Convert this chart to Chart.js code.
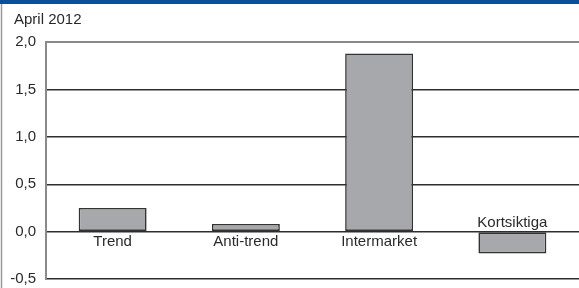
<!DOCTYPE html>
<html>
<head>
<meta charset="utf-8">
<script src="https://cdn.jsdelivr.net/npm/chart.js@4/dist/chart.umd.min.js"></script>
<style>
  html, body { margin: 0; padding: 0; background: #fff; }
  #wrap { width: 579px; height: 288px; position: relative; }
</style>
</head>
<body>
<div id="wrap"><canvas id="chart" width="579" height="288"></canvas></div>
<script>
// --- data ---
const categories = ["Trend", "Anti-trend", "Intermarket", "Kortsiktiga"];
const values = [0.25, 0.08, 1.88, -0.23];
const yTicks = [2.0, 1.5, 1.0, 0.5, 0.0, -0.5];
const periodLabel = "April 2012";

const FONT = "'Liberation Sans', Arial, Helvetica, sans-serif";
const FSIZE = 15;

// frame: blue top band, grey left border, period text
const framePlugin = {
    id: "frame",
    beforeDraw(chart) {
        const c = chart.ctx;
        c.save();
        c.fillStyle = "#fff";
        c.fillRect(0, 0, chart.width, chart.height);
        c.fillStyle = "#0b4f9c";
        c.fillRect(0, 0, chart.width, 4);
        c.strokeStyle = "#9a9a9a";
        c.lineWidth = 1.5;
        c.beginPath();
        c.moveTo(1.5, 4);
        c.lineTo(1.5, chart.height);
        c.stroke();
        c.fillStyle = "#2a2a2a";
        c.font = FSIZE + "px " + FONT;
        c.textBaseline = "middle";
        c.fillText(periodLabel, 14, 20);
        c.restore();
    }
};

// category names sit next to the zero line, on the side away from the bar
const barLabelPlugin = {
    id: "barLabels",
    afterDatasetsDraw(chart) {
        const c = chart.ctx;
        const y0 = chart.scales.y.getPixelForValue(0);
        const meta = chart.getDatasetMeta(0);
        c.save();
        c.fillStyle = "#2a2a2a";
        c.font = FSIZE + "px " + FONT;
        c.textAlign = "center";
        c.textBaseline = "middle";
        meta.data.forEach((el, i) => {
            const y = values[i] >= 0 ? y0 + 10 : y0 - 9;
            c.fillText(categories[i], el.x, y);
        });
        c.restore();
    }
};

new Chart(document.getElementById("chart"), {
    type: "bar",
    data: {
        labels: categories,
        datasets: [{
            data: values,
            backgroundColor: "#a7a8ab",
            borderColor: "#333",
            borderWidth: 1.6,
            borderSkipped: false,
            barPercentage: 1,
            categoryPercentage: 0.51
        }]
    },
    options: {
        responsive: false,
        animation: false,
        layout: { padding: { top: 42, bottom: 9, left: 0, right: 0 } },
        plugins: { legend: { display: false }, tooltip: { enabled: false } },
        scales: {
            x: { display: false },
            y: {
                min: -0.5,
                max: 2.0,
                afterFit(scale) {
                    scale.width = 46;
                    scale.paddingTop = 0;
                    scale.paddingBottom = 0;
                },
                afterBuildTicks(scale) { scale.ticks = yTicks.map(v => ({ value: v })); },
                border: { display: true, color: "#8a8a8a", width: 2 },
                grid: {
                    drawTicks: false,
                    color: ctx => ctx.tick && ctx.tick.value === 2 ? "#8a8a8a" : "#2e2e2e",
                    lineWidth: ctx => ctx.tick && ctx.tick.value === 2 ? 2 : 1.4
                },
                ticks: {
                    padding: 10,
                    color: "#2a2a2a",
                    font: { family: FONT, size: FSIZE },
                    callback: v => v.toFixed(1).replace(".", ",")
                }
            }
        }
    },
    plugins: [framePlugin, barLabelPlugin]
});
</script>
</body>
</html>
